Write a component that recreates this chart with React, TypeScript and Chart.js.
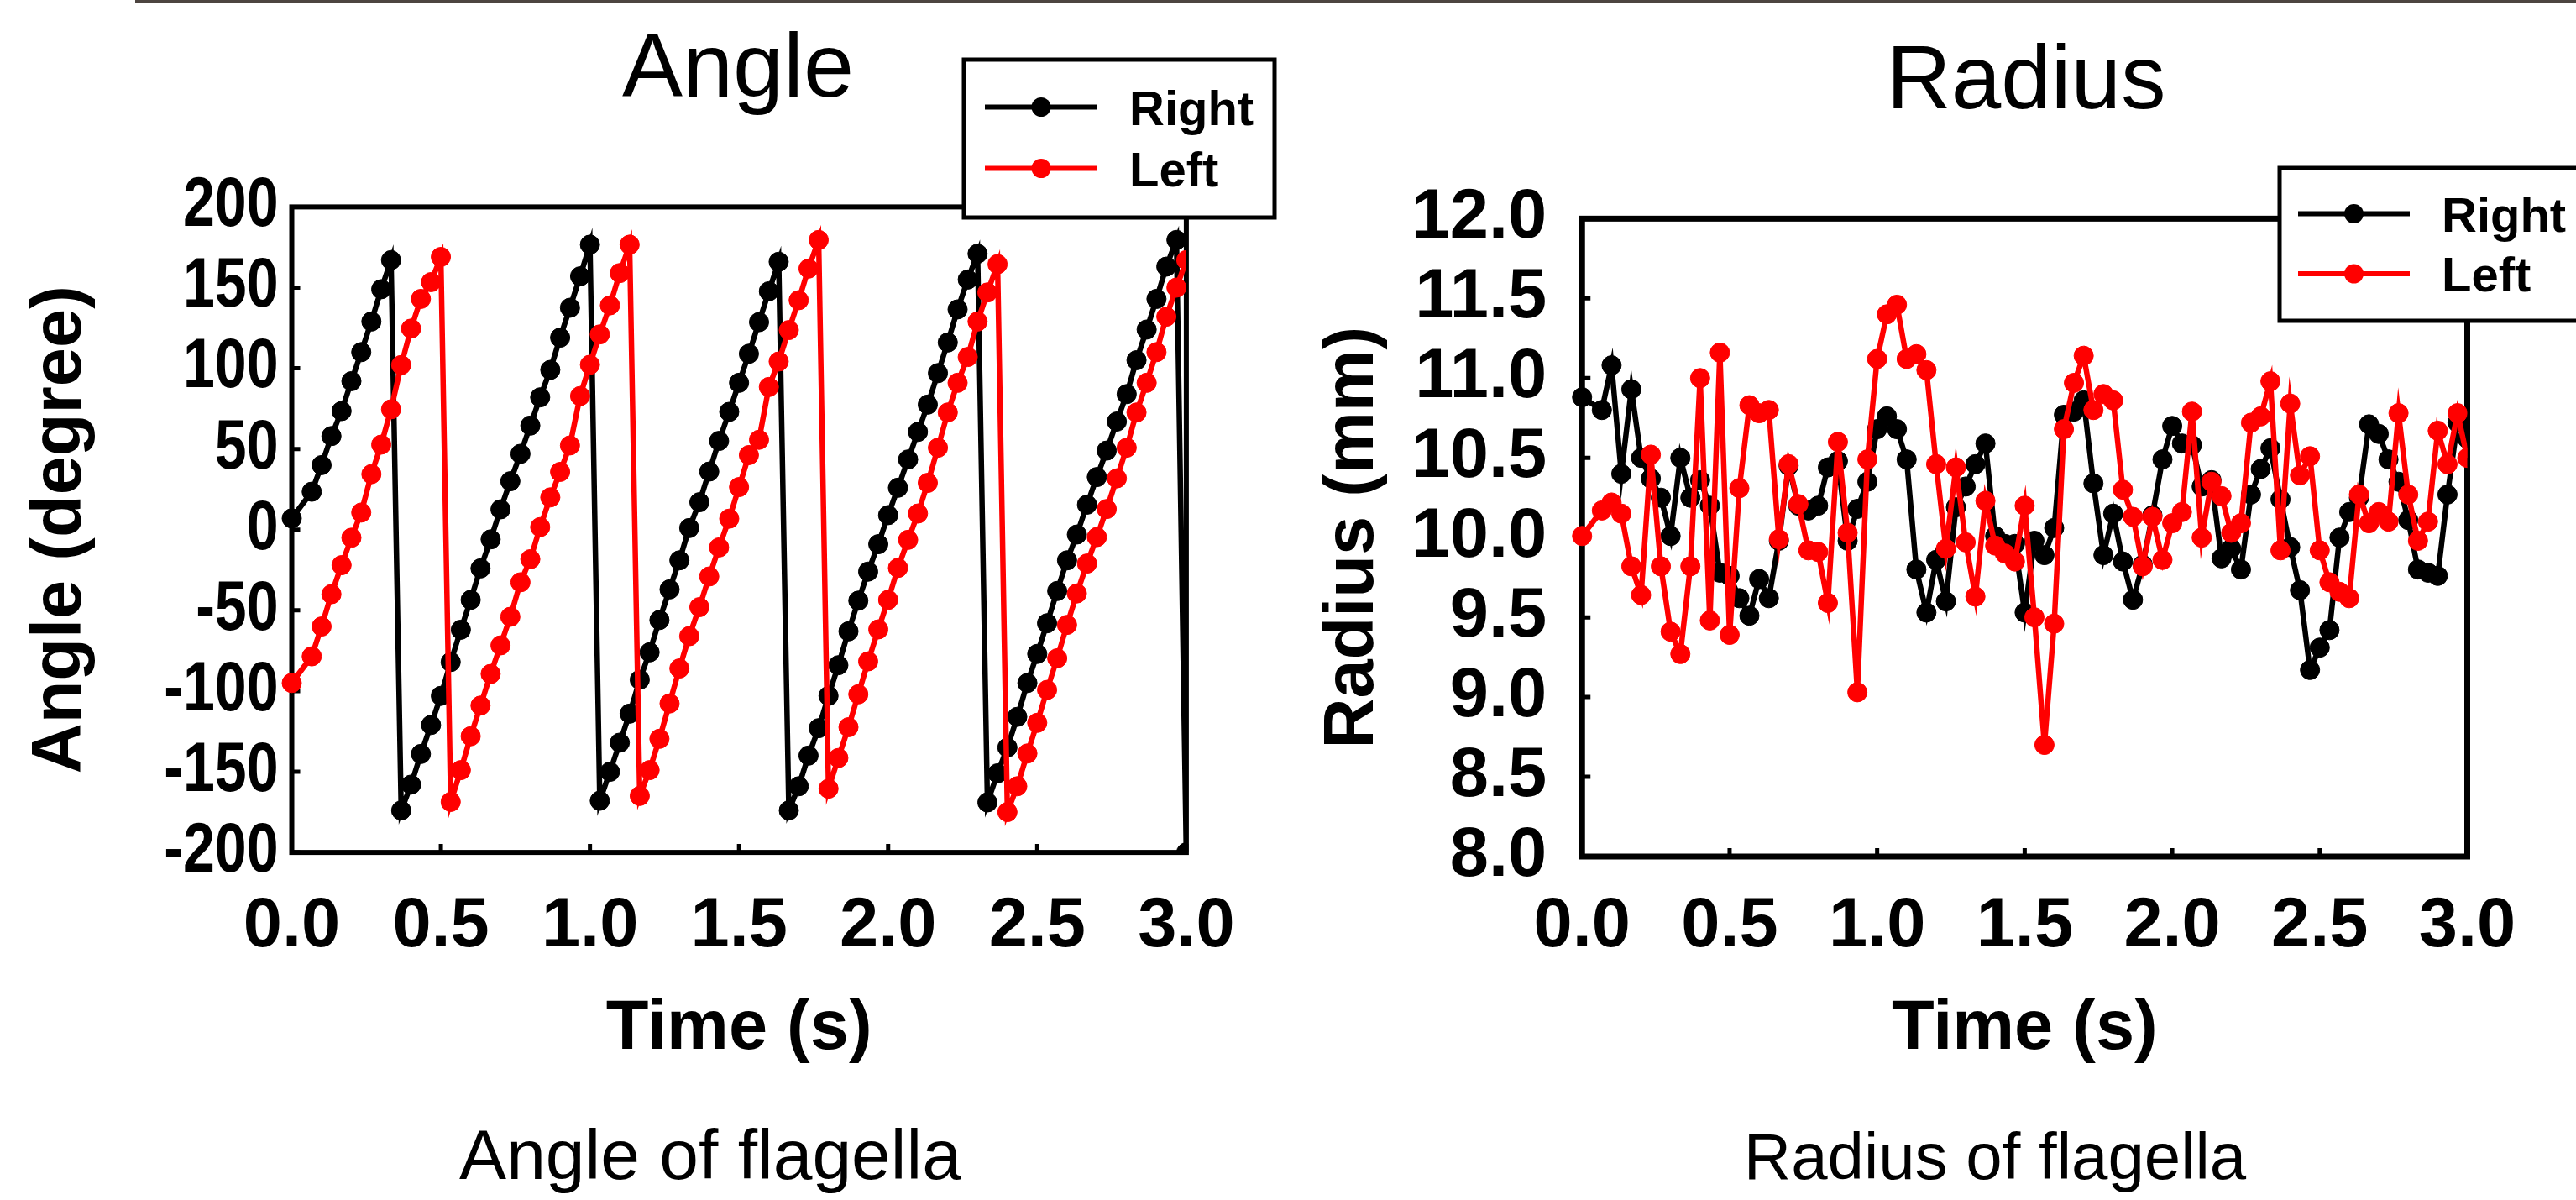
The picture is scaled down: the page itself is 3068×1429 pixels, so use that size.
import React, { useEffect, useRef } from "react";
import { Chart, registerables } from "chart.js";

Chart.register(...registerables);

const FONT = "'Liberation Sans', Arial, Helvetica, sans-serif";

// Sample times (s) shared by all four series
const timeS = [
  0, 0.067, 0.1, 0.133, 0.167, 0.2, 0.233, 0.267, 0.3, 0.333,
  0.367, 0.4, 0.433, 0.467, 0.5, 0.533, 0.567, 0.6, 0.633, 0.667,
  0.7, 0.733, 0.767, 0.8, 0.833, 0.867, 0.9, 0.933, 0.967, 1.0,
  1.033, 1.067, 1.1, 1.133, 1.167, 1.2, 1.233, 1.267, 1.3, 1.333,
  1.367, 1.4, 1.433, 1.467, 1.5, 1.533, 1.567, 1.6, 1.633, 1.667,
  1.7, 1.733, 1.767, 1.8, 1.833, 1.867, 1.9, 1.933, 1.967, 2.0,
  2.033, 2.067, 2.1, 2.133, 2.167, 2.2, 2.233, 2.267, 2.3, 2.333,
  2.367, 2.4, 2.433, 2.467, 2.5, 2.533, 2.567, 2.6, 2.633, 2.667,
  2.7, 2.733, 2.767, 2.8, 2.833, 2.867, 2.9, 2.933, 2.967, 3.0,
];

// Angle (degree)
const angleRight = [
  7, 23.5, 40, 58, 73.5, 92, 110, 129, 149, 167,
  -174, -158, -139, -121, -103, -82, -62, -43.5, -24, -6,
  12.6, 30, 47, 64.5, 82, 99, 119, 137.5, 157, 176.6,
  -168, -150, -132, -114, -93, -76, -56, -37, -19, 1,
  17, 36, 55, 73, 91, 109, 128.6, 147.7, 166, -174,
  -159, -140, -123, -103, -84, -63, -44, -26, -9, 9,
  26, 43.5, 60.6, 77.5, 97, 116, 136.5, 155, 171, -169,
  -151, -135, -116, -95, -77, -58, -38, -19, -3, 15.5,
  32.6, 49, 67, 84, 105, 124, 143, 163, 179.5, -200,
];
const angleLeft = [
  -95, -78.5, -60, -40, -22, -5, 10.6, 34.4, 52.7, 74.6,
  102, 124.6, 143, 153.4, 169, -168.7, -149, -128, -109, -89.4,
  -71.7, -54, -32.6, -18.3, 1.6, 20, 35.8, 52.2, 82.8, 102.2,
  121, 139, 159, 176.6, -165, -149, -129.6, -107.7, -86, -66,
  -48, -29, -11, 6.8, 26.4, 46.2, 55.7, 88.4, 104.2, 123.7,
  142.2, 161.8, 179.5, -160.5, -141.5, -122.4, -102, -81.6, -61.8, -43.5,
  -23.7, -6.3, 10, 29, 50.8, 72.6, 91, 107, 129, 147,
  164.5, -175, -159, -138.7, -119.7, -99.3, -79.7, -59, -39.5, -21,
  -4.6, 12.8, 31.8, 50.8, 72.6, 91, 110, 132, 150, 167,
];

// Radius (mm)
const radiusRight = [
  10.88, 10.8, 11.08, 10.4, 10.93, 10.5, 10.37, 10.25, 10.01, 10.5,
  10.25, 10.36, 10.2, 9.78, 9.76, 9.62, 9.51, 9.74, 9.62, 9.98,
  10.45, 10.2, 10.17, 10.2, 10.44, 10.48, 9.98, 10.18, 10.35, 10.68,
  10.76, 10.68, 10.49, 9.8, 9.53, 9.86, 9.6, 10.19, 10.32, 10.46,
  10.59, 10.01, 9.96, 9.96, 9.53, 9.98, 9.89, 10.06, 10.77, 10.79,
  10.86, 10.34, 9.89, 10.15, 9.85, 9.61, 9.83, 10.14, 10.49, 10.7,
  10.59, 10.58, 10.32, 10.36, 9.87, 9.93, 9.8, 10.27, 10.43, 10.56,
  10.24, 9.94, 9.67, 9.17, 9.31, 9.42, 10.0, 10.16, 10.25, 10.71,
  10.65, 10.49, 10.35, 10.11, 9.8, 9.78, 9.76, 10.27, 10.72, 10.62,
];
const radiusLeft = [
  10.01, 10.17, 10.22, 10.15, 9.82, 9.64, 10.52, 9.82, 9.41, 9.27,
  9.82, 11.0, 9.48, 11.16, 9.39, 10.31, 10.83, 10.78, 10.8, 9.99,
  10.46, 10.21, 9.92, 9.91, 9.59, 10.6, 10.03, 9.03, 10.49, 11.12,
  11.4, 11.46, 11.12, 11.15, 11.05, 10.46, 9.93, 10.44, 9.97, 9.63,
  10.23, 9.95, 9.9, 9.85, 10.2, 9.5, 8.7, 9.46, 10.68, 10.97,
  11.14, 10.8, 10.9, 10.86, 10.3, 10.13, 9.82, 10.13, 9.86, 10.09,
  10.16, 10.79, 10.0, 10.35, 10.26, 10.03, 10.09, 10.72, 10.76, 10.98,
  9.92, 10.84, 10.39, 10.51, 9.92, 9.72, 9.66, 9.62, 10.27, 10.09,
  10.16, 10.1, 10.78, 10.27, 9.98, 10.1, 10.67, 10.46, 10.78, 10.5,
];

const seriesNames = ["Right", "Left"];
const seriesColors = ["#000000", "#ff0000"];

const xRange = { min: 0, max: 3, step: 0.5 };
const angleRange = { min: -200, max: 200, step: 50 };
const radiusRange = { min: 8, max: 12, step: 0.5 };

const frameLegendPlugin = {
  id: "frameLegend",
  beforeDatasetsDraw(chart: any, _args: any, o: any) {
    const { ctx, chartArea: a, scales } = chart;
    ctx.save();
    ctx.strokeStyle = "#000";
    ctx.lineWidth = o.tickWidth;
    ctx.beginPath();
    for (const t of scales.x.ticks) {
      const px = scales.x.getPixelForValue(t.value);
      ctx.moveTo(px, a.bottom);
      ctx.lineTo(px, a.bottom - o.tickLen);
    }
    for (const t of scales.y.ticks) {
      const py = scales.y.getPixelForValue(t.value);
      ctx.moveTo(a.left, py);
      ctx.lineTo(a.left + o.tickLen, py);
    }
    ctx.stroke();
    ctx.lineWidth = o.frameWidth;
    ctx.strokeRect(a.left, a.top, a.right - a.left, a.bottom - a.top);
    // y tick labels drawn from the library's own ticks when narrowed labels are requested
    if (o.yLabel) {
      const Y = o.yLabel;
      ctx.fillStyle = "#000";
      ctx.font = `bold ${Y.size}px ${FONT}`;
      ctx.textAlign = "right";
      ctx.textBaseline = "middle";
      for (const t of scales.y.ticks) {
        const py = scales.y.getPixelForValue(t.value);
        ctx.save();
        ctx.translate(a.left - Y.pad, py);
        ctx.scale(Y.scaleX, 1);
        ctx.fillText(String(t.label), 0, 0);
        ctx.restore();
      }
    }
    ctx.restore();
  },
  afterDraw(chart: any, _args: any, o: any) {
    const { ctx } = chart;
    const L = o.legend;
    ctx.save();
    ctx.fillStyle = "#fff";
    ctx.fillRect(L.x, L.y, L.w, L.h);
    ctx.lineWidth = L.border;
    ctx.strokeStyle = "#000";
    ctx.strokeRect(L.x, L.y, L.w, L.h);
    chart.data.datasets.forEach((ds: any, i: number) => {
      const y = L.y + L.row0 + i * L.rowGap;
      ctx.strokeStyle = ds.borderColor;
      ctx.lineWidth = L.lineWidth;
      ctx.beginPath();
      ctx.moveTo(L.x + L.lineX0, y);
      ctx.lineTo(L.x + L.lineX1, y);
      ctx.stroke();
      ctx.fillStyle = ds.borderColor;
      ctx.beginPath();
      ctx.arc(L.x + (L.lineX0 + L.lineX1) / 2, y, L.dot, 0, Math.PI * 2);
      ctx.fill();
      ctx.fillStyle = "#000";
      ctx.font = `bold ${L.fontSize}px ${FONT}`;
      ctx.textAlign = "left";
      ctx.textBaseline = "alphabetic";
      ctx.fillText(ds.label, L.x + L.textX, y + L.textDy);
    });
    ctx.restore();
  },
};

type Geo = {
  pad: { left: number; top: number; right: number; bottom: number };
  yWidth: number;
  xHeight: number;
  yTickPad: number;
  xTickPad: number;
  yTitlePad: number;
  yLabelScaleX: number | null;
  frameWidth: number;
  legend: any;
};

function makeConfig(
  yTitle: string,
  yr: { min: number; max: number; step: number },
  series: number[][],
  yFmt: (v: number) => string,
  geo: Geo
): any {
  const tickFont = { family: FONT, size: 83, weight: "bold" as const };
  const customY = geo.yLabelScaleX !== null;
  return {
    type: "line",
    data: {
      datasets: series.map((vals, i) => ({
        label: seriesNames[i],
        data: timeS.map((t, k) => ({ x: t, y: vals[k] })),
        borderColor: seriesColors[i],
        backgroundColor: seriesColors[i],
        pointBackgroundColor: seriesColors[i],
        pointBorderColor: seriesColors[i],
        pointRadius: 11.5,
        pointBorderWidth: 1,
        borderWidth: 6.5,
        tension: 0,
        order: i === 0 ? 1 : 0,
        clip: { left: 20, top: 20, right: 0, bottom: 0 },
      })),
    },
    options: {
      responsive: false,
      animation: false,
      devicePixelRatio: 1,
      events: [],
      layout: { autoPadding: false, padding: geo.pad },
      plugins: {
        legend: { display: false },
        tooltip: { enabled: false },
        frameLegend: {
          tickLen: 10,
          tickWidth: 5,
          frameWidth: geo.frameWidth,
          legend: geo.legend,
          yLabel: customY ? { size: 83, pad: geo.yTickPad, scaleX: geo.yLabelScaleX } : null,
        },
      },
      scales: {
        x: {
          type: "linear",
          min: xRange.min,
          max: xRange.max,
          grid: { display: false, drawTicks: false },
          border: { display: false },
          ticks: {
            stepSize: xRange.step,
            autoSkip: false,
            maxRotation: 0,
            color: "#000",
            font: tickFont,
            padding: geo.xTickPad,
            callback: (v: number) => Number(v).toFixed(1),
          },
          title: {
            display: true,
            text: "Time (s)",
            color: "#000",
            font: tickFont,
            padding: { top: 0, bottom: 0 },
          },
          afterFit: (s: any) => {
            s.height = geo.xHeight;
          },
        },
        y: {
          type: "linear",
          min: yr.min,
          max: yr.max,
          grid: { display: false, drawTicks: false },
          border: { display: false },
          ticks: {
            display: !customY,
            stepSize: yr.step,
            autoSkip: false,
            color: "#000",
            font: tickFont,
            padding: geo.yTickPad,
            callback: (v: number) => yFmt(Number(v)),
          },
          title: {
            display: true,
            text: yTitle,
            color: "#000",
            font: tickFont,
            padding: { top: geo.yTitlePad, bottom: 0 },
          },
          afterFit: (s: any) => {
            s.width = geo.yWidth;
          },
        },
      },
    },
    plugins: [frameLegendPlugin],
  };
}

function ChartCanvas({ left, config }: { left: number; config: any }) {
  const ref = useRef<HTMLCanvasElement>(null);
  useEffect(() => {
    const chart = new Chart(ref.current as HTMLCanvasElement, config);
    return () => chart.destroy();
  }, []);
  return (
    <canvas
      ref={ref}
      width={1534}
      height={1429}
      style={{ position: "absolute", left, top: 0, width: 1534, height: 1429 }}
    />
  );
}

function Label({ text, cx, baseline, size, weight }: { text: string; cx: number; baseline: number; size: number; weight?: string }) {
  return (
    <div
      style={{
        position: "absolute",
        left: cx - 1000,
        width: 2000,
        top: baseline - 0.8465 * size,
        textAlign: "center",
        fontFamily: FONT,
        fontSize: size,
        lineHeight: `${size}px`,
        fontWeight: (weight as any) || "normal",
        whiteSpace: "nowrap",
        color: "#000",
      }}
    >
      {text}
    </div>
  );
}

const angleConfig = makeConfig("Angle (degree)", angleRange, [angleRight, angleLeft], (v) => String(Math.round(v)), {
  pad: { left: 0, top: 246.4, right: 121.1, bottom: 153.2 },
  yWidth: 347.5,
  xHeight: 260.7,
  yTickPad: 16,
  xTickPad: 39.3,
  yTitlePad: 23,
  yLabelScaleX: 0.82,
  frameWidth: 6,
  legend: { x: 1148, y: 71, w: 370, h: 188, border: 5, row0: 56.5, rowGap: 73, lineX0: 25, lineX1: 159, lineWidth: 6, dot: 11.5, textX: 197, textDy: 21, fontSize: 58 },
});

const radiusConfig = makeConfig("Radius (mm)", radiusRange, [radiusRight, radiusLeft], (v) => v.toFixed(1), {
  pad: { left: 0, top: 260.35, right: 129.5, bottom: 153.2 },
  yWidth: 350.25,
  xHeight: 255.8,
  yTickPad: 42,
  xTickPad: 34.4,
  yTitlePad: 28,
  yLabelScaleX: null,
  frameWidth: 7,
  legend: { x: 1181, y: 200, w: 420, h: 182, border: 5, row0: 54.6, rowGap: 71.4, lineX0: 22, lineX1: 155, lineWidth: 6, dot: 11.5, textX: 193, textDy: 21, fontSize: 58 },
});

export default function App() {
  return (
    <div
      style={{
        position: "absolute",
        left: 0,
        top: 0,
        width: 3068,
        height: 1429,
        background: "#ffffff",
        overflow: "hidden",
      }}
    >
      <div style={{ position: "absolute", left: 161, top: 0, width: 2907, height: 3, background: "#4d4540" }} />
      <ChartCanvas left={0} config={angleConfig} />
      <ChartCanvas left={1534} config={radiusConfig} />
      <Label text="Angle" cx={879} baseline={115} size={108} />
      <Label text="Radius" cx={2413} baseline={130} size={107} />
      <Label text="Angle of flagella" cx={846} baseline={1404} size={84} />
      <Label text="Radius of flagella" cx={2376} baseline={1404} size={78} />
    </div>
  );
}
